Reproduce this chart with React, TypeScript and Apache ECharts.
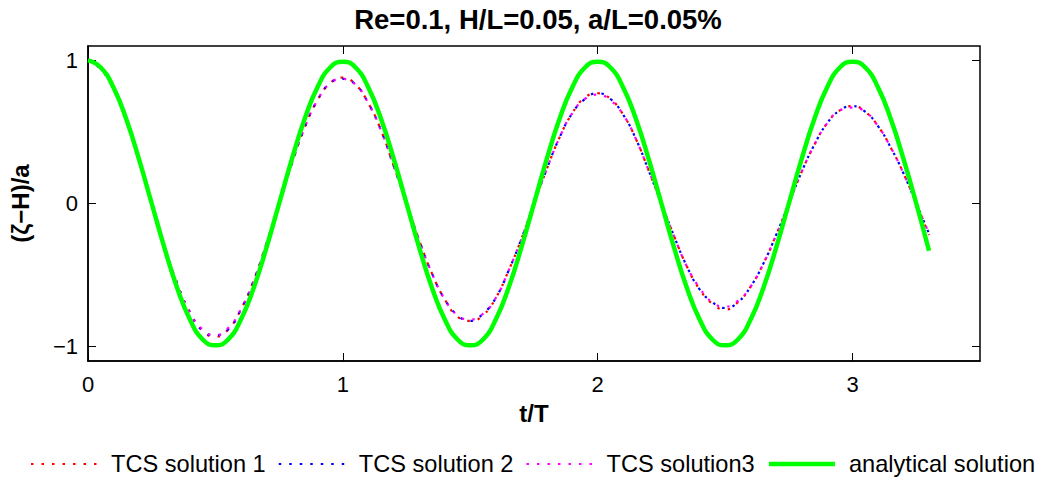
import React, { useEffect, useRef } from "react";
import * as echarts from "echarts";

const tValues = [
  0, 0.05, 0.1, 0.15, 0.2, 0.25, 0.3, 0.35, 0.4, 0.45,
  0.5, 0.55, 0.6, 0.65, 0.7, 0.75, 0.8, 0.85, 0.9, 0.95,
  1.0, 1.05, 1.1, 1.15, 1.2, 1.25, 1.3, 1.35, 1.4, 1.45,
  1.5, 1.55, 1.6, 1.65, 1.7, 1.75, 1.8, 1.85, 1.9, 1.95,
  2.0, 2.05, 2.1, 2.15, 2.2, 2.25, 2.3, 2.35, 2.4, 2.45,
  2.5, 2.55, 2.6, 2.65, 2.7, 2.75, 2.8, 2.85, 2.9, 2.95,
  3.0, 3.05, 3.1, 3.15, 3.2, 3.25, 3.3,
];

const tcs1 = [
  1.0, 0.94, 0.8, 0.58, 0.3, 0.0, -0.3, -0.56, -0.76, -0.89,
  -0.93, -0.88, -0.74, -0.54, -0.28, 0.0, 0.28, 0.53, 0.72, 0.84,
  0.88, 0.83, 0.7, 0.51, 0.26, 0.0, -0.26, -0.49, -0.67, -0.79,
  -0.82, -0.78, -0.66, -0.47, -0.25, 0.0, 0.24, 0.46, 0.63, 0.74,
  0.77, 0.73, 0.62, 0.45, 0.23, 0.0, -0.23, -0.44, -0.6, -0.7,
  -0.74, -0.69, -0.58, -0.42, -0.22, 0.0, 0.22, 0.41, 0.56, 0.65,
  0.68, 0.64, 0.54, 0.39, 0.21, 0.0, -0.22,
];

const tcs2 = [
  1.0, 0.94, 0.8, 0.58, 0.3, 0.0, -0.3, -0.56, -0.76, -0.89,
  -0.92, -0.88, -0.74, -0.54, -0.28, 0.0, 0.28, 0.53, 0.72, 0.84,
  0.87, 0.83, 0.7, 0.51, 0.26, 0.0, -0.26, -0.49, -0.67, -0.78,
  -0.82, -0.77, -0.66, -0.47, -0.25, 0.0, 0.24, 0.46, 0.63, 0.73,
  0.77, 0.73, 0.62, 0.45, 0.23, 0.0, -0.23, -0.44, -0.6, -0.69,
  -0.73, -0.69, -0.58, -0.42, -0.22, 0.0, 0.22, 0.41, 0.56, 0.65,
  0.68, 0.64, 0.54, 0.39, 0.21, 0.0, -0.21,
];

const tcs3 = [
  1.0, 0.94, 0.8, 0.58, 0.3, 0.0, -0.3, -0.56, -0.76, -0.88,
  -0.92, -0.87, -0.74, -0.54, -0.28, 0.0, 0.28, 0.53, 0.72, 0.84,
  0.87, 0.83, 0.7, 0.51, 0.26, 0.0, -0.26, -0.49, -0.67, -0.78,
  -0.81, -0.77, -0.66, -0.47, -0.25, 0.0, 0.24, 0.46, 0.63, 0.73,
  0.76, 0.72, 0.62, 0.45, 0.23, 0.0, -0.23, -0.44, -0.59, -0.69,
  -0.72, -0.68, -0.58, -0.42, -0.22, 0.0, 0.22, 0.41, 0.56, 0.65,
  0.67, 0.64, 0.54, 0.39, 0.21, 0.0, -0.21,
];

const analytical = [
  1.0, 0.95, 0.81, 0.59, 0.31, 0.0, -0.31, -0.59, -0.81, -0.95,
  -0.99, -0.95, -0.81, -0.59, -0.31, 0.0, 0.31, 0.59, 0.81, 0.95,
  0.99, 0.95, 0.81, 0.59, 0.31, 0.0, -0.31, -0.59, -0.81, -0.95,
  -0.99, -0.95, -0.81, -0.59, -0.31, 0.0, 0.31, 0.59, 0.81, 0.95,
  0.99, 0.95, 0.81, 0.59, 0.31, 0.0, -0.31, -0.59, -0.81, -0.95,
  -0.99, -0.95, -0.81, -0.59, -0.31, 0.0, 0.31, 0.59, 0.81, 0.95,
  0.99, 0.95, 0.81, 0.59, 0.31, 0.0, -0.33,
];

const seriesNames = ["TCS solution 1", "TCS solution 2", "TCS solution3", "analytical solution"];
const xTicks = [0, 1, 2, 3];
const yTicks = [-1, 0, 1];
const titleText = "Re=0.1, H/L=0.05, a/L=0.05%";

const FONT = "Liberation Sans, Arial, sans-serif";

const pair = (ys: number[]) => tValues.map((t, i) => [t, ys[i]]);

export default function App() {
  const ref = useRef<HTMLDivElement>(null);
  useEffect(() => {
    if (!ref.current) return;
    const chart = echarts.init(ref.current, undefined, { renderer: "svg" });
    const fmt = (v: number) => (v < 0 ? "\u2212" + Math.abs(v) : String(v));
    const tickStyle = { show: true, inside: true, length: 8, lineStyle: { color: "#000", width: 1 } };
    const dotted = (color: string) => ({
      type: "line",
      smooth: true,
      symbol: "none",
      lineStyle: { color, width: 2.2, type: [2.5, 8] },
      itemStyle: { color },
    });
    chart.setOption({
      animation: false,
      backgroundColor: "#fff",
      title: {
        text: titleText,
        left: 533,
        textAlign: "center",
        top: 0,
        textStyle: { fontFamily: FONT, fontWeight: "bold", fontSize: 27.5, color: "#000" },
      },
      legend: {
        left: 30,
        top: 452,
        width: 1012,
        padding: 0,
        itemWidth: 66,
        itemHeight: 14,
        itemGap: 12,
        itemStyle: { opacity: 0 },
        textStyle: { fontFamily: FONT, fontSize: 23.6, color: "#000", padding: [0, 0, 0, 9] },
        data: [
          { name: seriesNames[0] },
          { name: seriesNames[1] },
          { name: seriesNames[2] },
          { name: seriesNames[3], lineStyle: { width: 4.5 } },
        ],
      },
      grid: {
        left: 88,
        right: 62,
        top: 46,
        bottom: 119,
        show: true,
        borderColor: "#000",
        borderWidth: 1.5,
        backgroundColor: "#fff",
      },
      xAxis: [
        {
          type: "value",
          min: 0,
          max: 3.5,
          name: "t/T",
          nameLocation: "middle",
          nameGap: 40,
          nameTextStyle: { fontFamily: FONT, fontWeight: "bold", fontSize: 24, color: "#000" },
          axisLine: { show: true, onZero: false, lineStyle: { color: "#000", width: 1.5 } },
          axisTick: { ...tickStyle, customValues: xTicks },
          axisLabel: {
            customValues: xTicks,
            formatter: fmt,
            fontFamily: FONT,
            fontSize: 22,
            color: "#000",
            margin: 12,
          },
          splitLine: { show: false },
        },
        {
          type: "value",
          position: "top",
          min: 0,
          max: 3.5,
          axisLine: { show: false, onZero: false },
          axisTick: { ...tickStyle, customValues: xTicks },
          axisLabel: { show: false },
          splitLine: { show: false },
        },
      ],
      yAxis: [
        {
          type: "value",
          min: -1.1,
          max: 1.1,
          name: "(\u03B6\u2212H)/a",
          nameLocation: "middle",
          nameGap: 56,
          nameRotate: 90,
          nameTextStyle: { fontFamily: FONT, fontWeight: "bold", fontSize: 24, color: "#000" },
          axisLine: { show: true, onZero: false, lineStyle: { color: "#000", width: 1.5 } },
          axisTick: { ...tickStyle, customValues: yTicks },
          axisLabel: {
            customValues: yTicks,
            formatter: fmt,
            fontFamily: FONT,
            fontSize: 22,
            color: "#000",
            margin: 10,
          },
          splitLine: { show: false },
        },
        {
          type: "value",
          position: "right",
          min: -1.1,
          max: 1.1,
          axisLine: { show: false, onZero: false },
          axisTick: { ...tickStyle, customValues: yTicks },
          axisLabel: { show: false },
          splitLine: { show: false },
        },
      ],
      series: [
        { name: seriesNames[0], ...dotted("#ff0000"), data: pair(tcs1) },
        { name: seriesNames[1], ...dotted("#0000ff"), data: pair(tcs2) },
        { name: seriesNames[2], ...dotted("#ff00ff"), data: pair(tcs3) },
        {
          name: seriesNames[3],
          type: "line",
          smooth: true,
          symbol: "none",
          lineStyle: { color: "#00ff00", width: 4.5 },
          itemStyle: { color: "#00ff00" },
          data: pair(analytical),
        },
      ],
    });
    return () => chart.dispose();
  }, []);
  return <div ref={ref} style={{ width: 1042, height: 480, position: "absolute", left: 0, top: 0 }} />;
}
